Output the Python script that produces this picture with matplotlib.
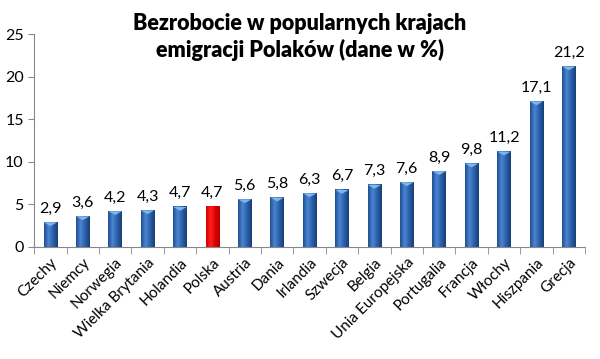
import matplotlib.pyplot as plt
import numpy as np
from matplotlib.colors import LinearSegmentedColormap

plt.rcParams['font.family'] = ['Lato', 'DejaVu Sans']

kraje = ['Czechy', 'Niemcy', 'Norwegia', 'Wielka Brytania', 'Holandia', 'Polska',
         'Austria', 'Dania', 'Irlandia', 'Szwecja', 'Belgia', 'Unia Europejska',
         'Portugalia', 'Francja', 'Włochy', 'Hiszpania', 'Grecja']
bezrobocie = [2.9, 3.6, 4.2, 4.3, 4.7, 4.7, 5.6, 5.8, 6.3, 6.7, 7.3, 7.6,
              8.9, 9.8, 11.2, 17.1, 21.2]
wyroznione = 'Polska'

niebieski = LinearSegmentedColormap.from_list('nb', ['#1d4f93', '#4a86d0', '#2a5fa8', '#173f78'])
czerwony = LinearSegmentedColormap.from_list('cz', ['#d40000', '#ff2020', '#e00000', '#b00000'])

fig = plt.figure(figsize=(6, 3.59), dpi=100)
ax = fig.add_axes([0.057, 0.312, 0.918, 0.593])

x = np.arange(len(kraje))
bars = ax.bar(x, bezrobocie, width=0.42, color='none', zorder=2)
grad = np.linspace(0, 1, 64).reshape(1, -1)
for b, k in zip(bars, kraje):
    cmap = czerwony if k == wyroznione else niebieski
    ax.imshow(grad, cmap=cmap, aspect='auto', zorder=2,
              extent=[b.get_x(), b.get_x() + b.get_width(), 0, b.get_height()])
    if k != wyroznione:
        # jasna "czapka" na gorze slupka
        ax.fill([b.get_x(), b.get_x() + b.get_width(), b.get_x() + b.get_width() / 2],
                [b.get_height(), b.get_height(), b.get_height() - 0.45],
                color='#7fb5ee', zorder=3, lw=0)

for xi, v in zip(x, bezrobocie):
    ax.text(xi, v + 0.8, f'{v:.1f}'.replace('.', ','), ha='center', va='bottom', fontsize=11.5)

ax.set_xlim(-0.5, len(kraje) - 0.5)
ax.set_ylim(0, 25)
ax.set_yticks(range(0, 26, 5))
ax.tick_params(axis='y', labelsize=11.5, length=4, color='#888888', direction='out')
ax.set_xticks(x)
ax.set_xticklabels(kraje, rotation=45, ha='right', rotation_mode='anchor', fontsize=11)
ax.set_xticks(np.arange(-0.5, len(kraje)), minor=True)
ax.tick_params(axis='x', which='major', length=0, pad=6)
ax.tick_params(axis='x', which='minor', length=5, color='#888888')
for s in ['top', 'right']:
    ax.spines[s].set_visible(False)
for s in ['left', 'bottom']:
    ax.spines[s].set_color('#888888')

fig.text(0.5, 0.965, 'Bezrobocie w popularnych krajach\nemigracji Polaków (dane w %)',
         ha='center', va='top', fontsize=15.5, fontweight='heavy', linespacing=1.3)

fig.savefig('out.png', dpi=100)
